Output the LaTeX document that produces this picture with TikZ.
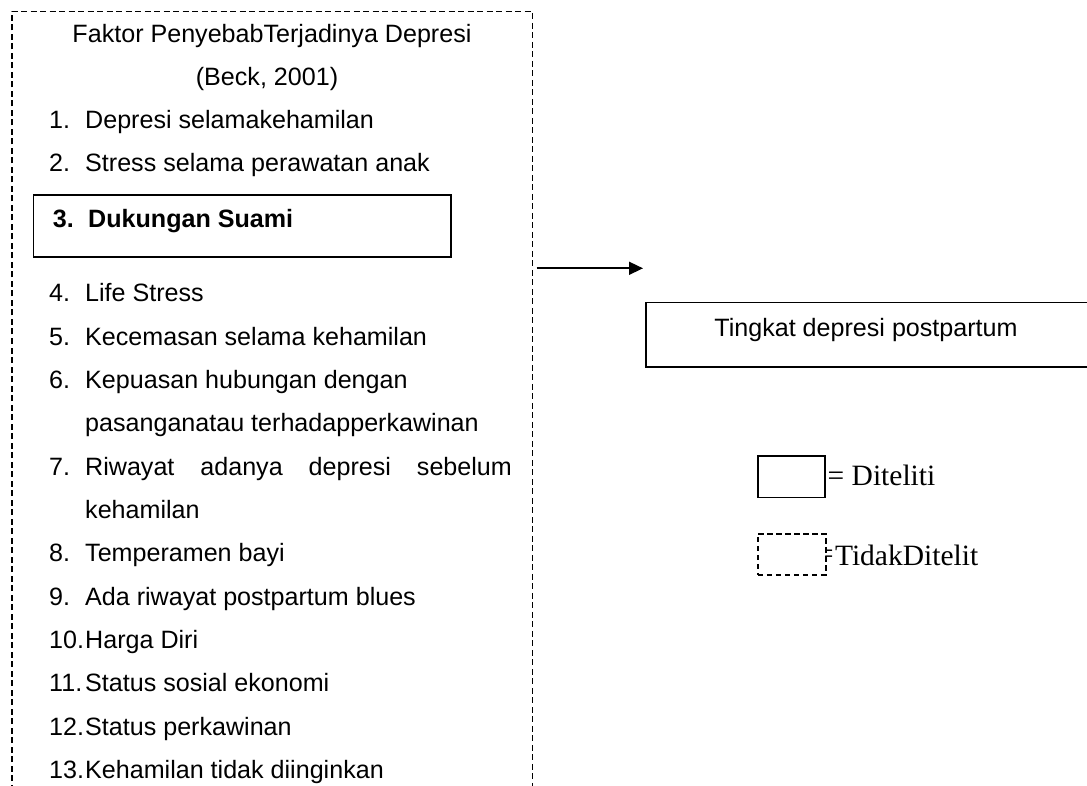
\documentclass[tikz,border=0pt]{standalone}
\usepackage{fontspec}
\usepackage{graphicx}
\usetikzlibrary{arrows.meta}
\newfontfamily\arialf{Liberation Sans}
\newfontfamily\tnrf{Liberation Serif}
\tikzset{
  txt/.style={inner sep=0pt, font=\arialf\fontsize{25.1}{29}\selectfont},
  num/.style={txt, anchor=base west},
  itm/.style={txt, anchor=base west},
  ttl/.style={txt, anchor=base},
  leg/.style={inner sep=0pt, anchor=base west, font=\tnrf\fontsize{29.5}{33}\selectfont},
  outerdash/.style={line width=1.6pt, dash pattern=on 6pt off 3.5pt},
  solidbox/.style={draw, line width=1.6pt, inner sep=0pt},
  dashbox/.style={draw, line width=1.5pt, dash pattern=on 5.5pt off 3.5pt, inner sep=0pt},
  conn/.style={line width=1.6pt, -{Triangle[length=14pt,width=13pt]}}
}
\begin{document}
\begin{tikzpicture}[x=1pt,y=-1pt]
\clip (0,0) rectangle (1087,786);
\fill[white] (0,0) rectangle (1087,786);

% outer dashed frame (open at the bottom)
\draw[outerdash] (11.7,800) -- (11.7,11.5) -- (532.3,11.5) -- (532.3,800);

% title
\node[ttl] (t1) at (272,42.7) {Faktor PenyebabTerjadinya Depresi};
\node[ttl] (t2) at (267,85.5) {(Beck, 2001)};

% items
\node[num] (n1) at (49,128.3) {1.};
\node[itm] (i1) at (85,128.3) {Depresi selamakehamilan};
\node[num] (n2) at (49,171.7) {2.};
\node[itm] (i2) at (85,171.7) {Stress selama perawatan anak};

% item 3 in solid box
\node[solidbox, minimum width=417.3pt, minimum height=62pt, anchor=north west] (b3) at (32.7,194) {};
\node[num, font=\arialf\bfseries\fontsize{25.1}{29}\selectfont] (n3) at (52.7,227.7) {3.};
\node[itm, font=\arialf\bfseries\fontsize{25.1}{29}\selectfont] (i3) at (88,227.7) {Dukungan Suami};

\node[num] (n4) at (49,301.7) {4.};
\node[itm] (i4) at (85,301.7) {Life Stress};
\node[num] (n5) at (49,345) {5.};
\node[itm] (i5) at (85,345) {Kecemasan selama kehamilan};
\node[num] (n6) at (49,388.3) {6.};
\node[itm] (i6) at (85,388.3) {Kepuasan hubungan dengan};
\node[itm] (i6b) at (85,431.7) {pasanganatau terhadapperkawinan};
\node[num] (n7) at (49,475) {7.};
\node[itm] (i7) at (85,475) {\makebox[426.7pt][s]{Riwayat adanya depresi sebelum}};
\node[itm] (i7b) at (85,518.3) {kehamilan};
\node[num] (n8) at (49,561.7) {8.};
\node[itm] (i8) at (85,561.7) {Temperamen bayi};
\node[num] (n9) at (49,605) {9.};
\node[itm] (i9) at (85,605) {Ada riwayat postpartum blues};
\node[num] (n10) at (49,648.3) {10.};
\node[itm] (i10) at (85,648.3) {Harga Diri};
\node[num] (n11) at (49,691.7) {11.};
\node[itm] (i11) at (85,691.7) {Status sosial ekonomi};
\node[num] (n12) at (49,735) {12.};
\node[itm] (i12) at (85,735) {Status perkawinan};
\node[num] (n13) at (49,778.3) {13.};
\node[itm] (i13) at (85,778.3) {Kehamilan tidak diinginkan};

% arrow
\coordinate (aS) at (536.7,268.3);
\coordinate (aE) at (643,268.3);
\draw[conn] (aS) -- (aE);

% target box (runs past the right edge)
\node[solidbox, minimum width=450pt, minimum height=64.3pt, anchor=north west] (tgt) at (645,301.7) {};
\node[ttl] (tgtt) at (866,336.7) {Tingkat depresi postpartum};

% legend
\node[solidbox, minimum width=67pt, minimum height=41.7pt, anchor=north west] (lg1) at (757.3,455) {};
\node[leg] (lg1t) at (827.5,485) {= Diteliti};
\node[dashbox, minimum width=68pt, minimum height=41pt, anchor=north west] (lg2) at (757,533) {};
\node[leg] (lg2t) at (824.5,565.7) {\raisebox{2pt}{\scalebox{0.5}[1]{=}}\hspace{2pt}TidakDitelit};
\end{tikzpicture}
\end{document}
